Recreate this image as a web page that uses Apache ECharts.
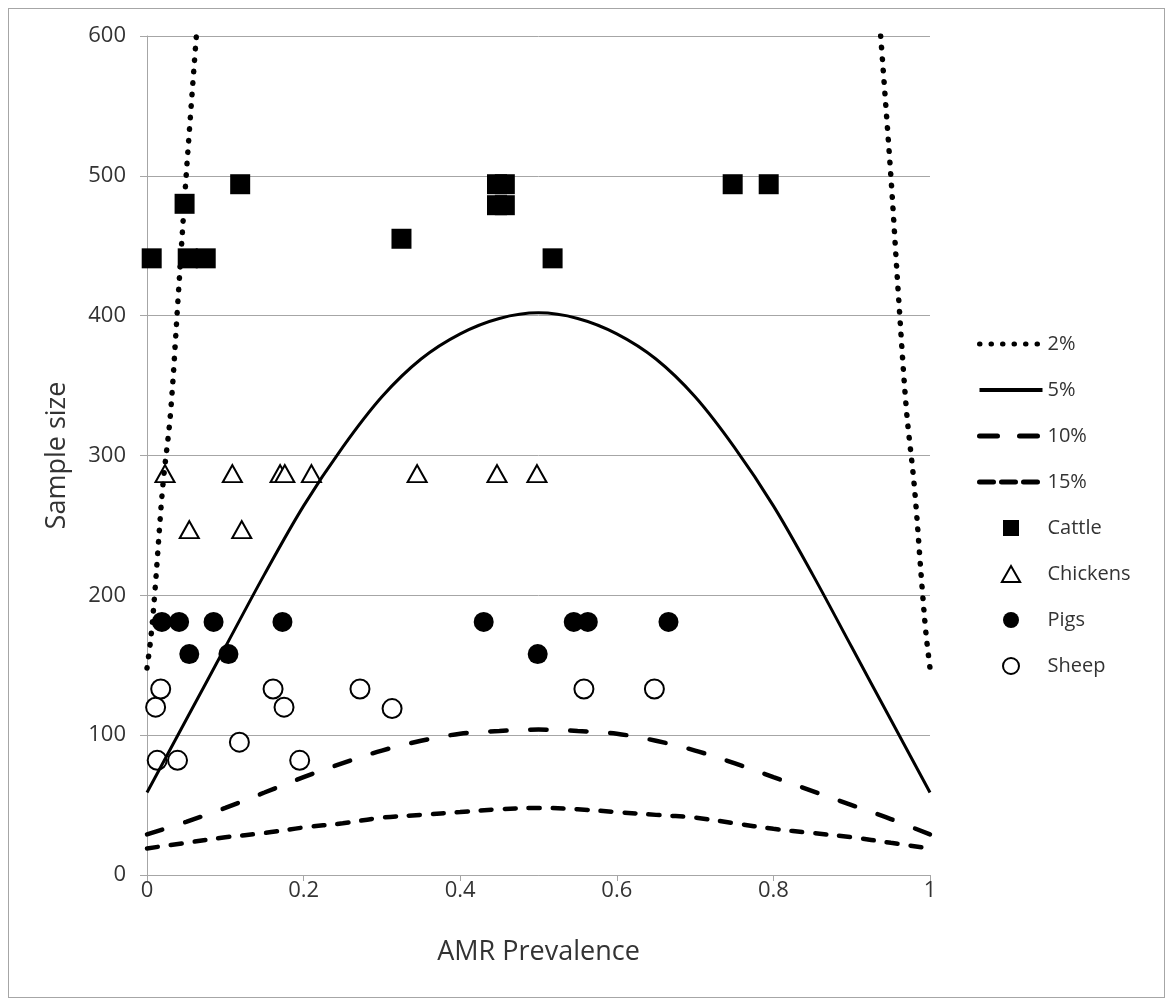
<!doctype html>
<html>
<head>
<meta charset="utf-8">
<script src="https://cdn.jsdelivr.net/npm/echarts@6/dist/echarts.min.js"></script>
<style>
  html, body { margin:0; padding:0; background:#fff; }
  #main { position:absolute; left:0; top:0; width:1165px; height:999px; }
  .frame { position:absolute; left:8px; top:8px; width:1155px; height:988px; border:1px solid #a6a6a6; }
</style>
</head>
<body>
<div class="frame"></div>
<div id="main"></div>
<script>
// prevalence grid for the confidence curves
var prevX = [0, 0.05, 0.1, 0.15, 0.2, 0.25, 0.3, 0.35, 0.4, 0.45, 0.5,
             0.55, 0.6, 0.65, 0.7, 0.75, 0.8, 0.85, 0.9, 0.95, 1];
var ci5  = [59, 111, 163, 215, 264, 306, 342, 369, 387, 398, 402,
            398, 387, 369, 342, 306, 264, 215, 163, 111, 59];
var ci10 = [29, 38, 48, 59, 70, 80, 89, 96, 101, 103, 104,
            103, 101, 96, 89, 80, 70, 60, 50, 40, 29];
var ci15 = [19, 23, 27, 30, 34, 37, 41, 43, 45, 47, 48,
            47, 45, 43, 41, 37, 33, 30, 27, 23, 19];
// 2% curve leaves the chart, two visible branches
var ci2LeftX  = [0, 0.005, 0.01, 0.02, 0.03, 0.04, 0.05, 0.063];
var ci2LeftY  = [148, 170, 202, 277, 330, 415, 500, 600];
var ci2RightX = [0.937, 0.95, 0.96, 0.97, 0.98, 0.99, 0.995, 1];
var ci2RightY = [600, 500, 412, 332, 278, 205, 172, 148];

var cattleX = [0.006, 0.048, 0.052, 0.075, 0.119, 0.325, 0.447, 0.457, 0.447, 0.457, 0.518, 0.748, 0.794];
var cattleY = [441, 480, 441, 441, 494, 455, 494, 494, 479, 479, 441, 494, 494];
var chickX  = [0.023, 0.109, 0.170, 0.176, 0.210, 0.345, 0.447, 0.498, 0.054, 0.121];
var chickY  = [287, 287, 287, 287, 287, 287, 287, 287, 247, 247];
var pigsX   = [0.019, 0.041, 0.085, 0.173, 0.430, 0.545, 0.563, 0.666, 0.054, 0.104, 0.499];
var pigsY   = [181, 181, 181, 181, 181, 181, 181, 181, 158, 158, 158];
var sheepX  = [0.011, 0.0175, 0.161, 0.175, 0.272, 0.313, 0.118, 0.013, 0.039, 0.195, 0.558, 0.648];
var sheepY  = [120, 133, 133, 120, 133, 119, 95, 82, 82, 82, 133, 133];

function pairs(xs, ys){
  var out = [];
  for (var i = 0; i < xs.length; i++) out.push([xs[i], ys[i]]);
  return out;
}

var font = '"Open Sans", Lato, sans-serif';
var txt = '#333';

var dotStyle   = { color: '#000', width: 5.5, type: [0.5, 11], cap: 'round' };
var solidStyle = { color: '#000', width: 3, type: 'solid' };
var longDash   = { color: '#000', width: 4.5, type: [16, 24], cap: 'round' };
var shortDash  = { color: '#000', width: 4.5, type: [11, 13], cap: 'round' };

var myChart = echarts.init(document.getElementById('main'));

function curve(name, xs, ys, style){
  return {
    name: name,
    type: 'line',
    data: pairs(xs, ys),
    symbol: 'none',
    smooth: 0.35,
    z: 5,
    lineStyle: style,
    itemStyle: { color: '#000' }
  };
}

var option = {
  animation: false,
  textStyle: { fontFamily: font },
  grid: { left: 147, right: 235, top: 36, bottom: 124 },
  legend: {
    orient: 'vertical',
    left: 972,
    top: 329,
    itemWidth: 63,
    itemHeight: 16,
    itemGap: 26,
    textStyle: { fontSize: 20, color: txt, fontFamily: font },
    data: [
      { name: '2%',  itemStyle: { opacity: 0 }, lineStyle: { width: 5 } },
      { name: '5%',  itemStyle: { opacity: 0 }, lineStyle: { width: 4 } },
      { name: '10%', itemStyle: { opacity: 0 }, lineStyle: { width: 5, type: [18, 22] } },
      { name: '15%', itemStyle: { opacity: 0 }, lineStyle: { width: 5, type: [14, 8] } },
      { name: 'Cattle',   icon: 'path://M0,0L10,0L10,10L0,10Z' },
      { name: 'Chickens', icon: 'path://M8,0L16,14L0,14Z' },
      { name: 'Pigs',     icon: 'path://M5,0A5,5,0,1,1,5,10A5,5,0,1,1,5,0Z' },
      { name: 'Sheep',    icon: 'path://M5,0A5,5,0,1,1,5,10A5,5,0,1,1,5,0Z' }
    ]
  },
  xAxis: {
    type: 'value',
    min: 0, max: 1, interval: 0.2,
    name: 'AMR Prevalence',
    nameLocation: 'middle',
    nameGap: 64,
    nameTextStyle: { fontSize: 27, color: txt },
    axisLine: { show: true, lineStyle: { color: '#a6a6a6', width: 1 } },
    axisTick: { show: true, length: 6, lineStyle: { color: '#a6a6a6' } },
    axisLabel: { fontSize: 22, color: txt, margin: 5 },
    splitLine: { show: false }
  },
  yAxis: {
    type: 'value',
    min: 0, max: 600, interval: 100,
    name: 'Sample size',
    nameLocation: 'middle',
    nameGap: 76,
    nameTextStyle: { fontSize: 27, color: txt },
    axisLine: { show: true, lineStyle: { color: '#a6a6a6', width: 1 } },
    axisTick: { show: true, length: 7, lineStyle: { color: '#a6a6a6' } },
    axisLabel: { fontSize: 22, color: txt, margin: 21 },
    splitLine: { show: true, lineStyle: { color: '#a6a6a6', width: 1 } }
  },
  series: [
    curve('2%', ci2LeftX, ci2LeftY, dotStyle),
    curve('2%', ci2RightX, ci2RightY, dotStyle),
    curve('5%', prevX, ci5, solidStyle),
    curve('10%', prevX, ci10, longDash),
    curve('15%', prevX, ci15, shortDash),
    {
      name: 'Cattle', type: 'scatter', data: pairs(cattleX, cattleY),
      symbol: 'rect', symbolSize: 20, z: 2,
      itemStyle: { color: '#000', opacity: 1 }
    },
    {
      name: 'Chickens', type: 'scatter', data: pairs(chickX, chickY),
      symbol: 'triangle', symbolSize: [19, 17], z: 2,
      itemStyle: { color: '#fff', borderColor: '#000', borderWidth: 2, opacity: 1 }
    },
    {
      name: 'Pigs', type: 'scatter', data: pairs(pigsX, pigsY),
      symbol: 'circle', symbolSize: 20, z: 2,
      itemStyle: { color: '#000', opacity: 1 }
    },
    {
      name: 'Sheep', type: 'scatter', data: pairs(sheepX, sheepY),
      symbol: 'circle', symbolSize: 19, z: 2,
      itemStyle: { color: '#fff', borderColor: '#000', borderWidth: 2, opacity: 1 }
    }
  ]
};

myChart.setOption(option);
</script>
</body>
</html>
